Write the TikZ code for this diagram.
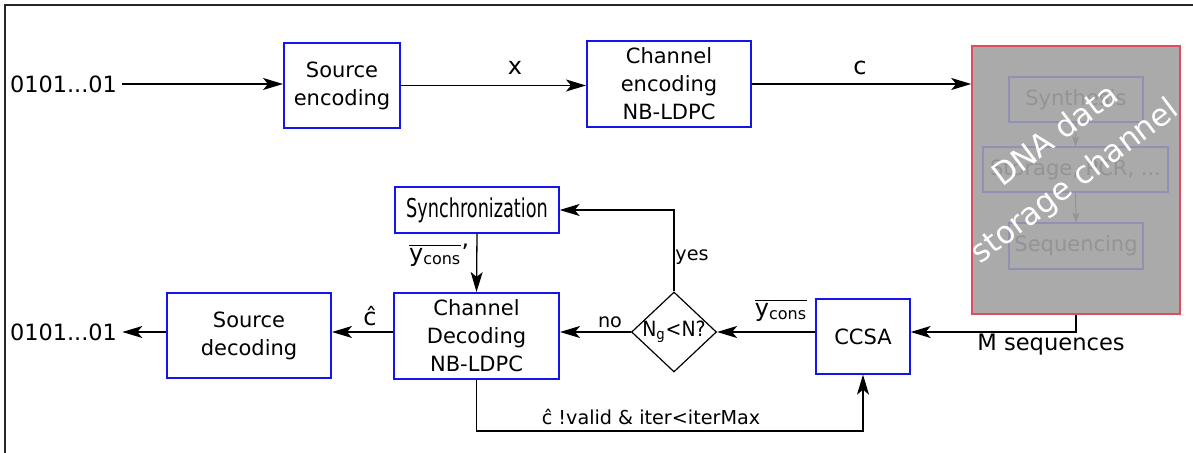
\documentclass[tikz,border=0pt]{standalone}
\usepackage{fontspec}
\setmainfont{DejaVu Sans}
\usetikzlibrary{arrows.meta,shapes.geometric}
\definecolor{bbl}{RGB}{20,20,235}
\definecolor{dnared}{RGB}{225,75,95}
\definecolor{dnagray}{RGB}{171,170,171}
\definecolor{innerb}{RGB}{145,145,180}
\definecolor{innert}{RGB}{148,148,148}
\newcommand\ycons{$\overline{\mbox{y\textsubscript{cons}}}$}
\begin{document}
\begin{tikzpicture}[x=0.5pt,y=-0.5pt,
  box/.style={draw=bbl, line width=1pt, align=center, inner sep=0pt,
    font=\fontsize{10.5}{14}\selectfont},
  tbox/.style={box, line width=0.65pt},
  inbox/.style={draw=innerb, line width=0.6pt, inner sep=0pt, text=innert,
    font=\fontsize{10.5}{12}\selectfont},
  inarr/.style={draw=innert, line width=0.5pt, -{Stealth[length=5pt,width=3.5pt,inset=1.5pt]}},
  arr/.style={draw=black, line width=0.65pt, -{Stealth[length=10pt,width=6pt,inset=2.5pt]}},
  lab/.style={inner sep=0pt, font=\fontsize{12}{14}\selectfont},
  slab/.style={inner sep=0pt, font=\fontsize{9.6}{12}\selectfont},
  io/.style={inner sep=2.5pt, font=\fontsize{11.2}{13}\selectfont}]
\useasboundingbox (0,0) rectangle (1193,453);
% frame
\draw[line width=1pt, black!85] (5,453) -- (5,5) -- (1193,5);
% top row
\node[io] (in) at (63.5,84) {0101...01};
\node[box, minimum width=58pt, minimum height=42.5pt] (srcenc) at (342,85.5) {Source\\encoding};
\node[box, minimum width=82pt, minimum height=43pt] (chenc) at (669,84) {Channel\\encoding\\NB-LDPC};
\node[draw=dnared, fill=dnagray, line width=0.8pt, minimum width=104pt, minimum height=134pt, inner sep=0pt] (dna) at (1076,180) {};
\node[inbox, minimum width=67pt, minimum height=22.5pt] (synth) at (1076,99.5) {Synthesis};
\node[inbox, minimum width=92.5pt, minimum height=22.5pt] (stor) at (1075.5,169.5) {Storage, PCR, ...};
\node[inbox, minimum width=67pt, minimum height=23pt] (seq) at (1076,246) {Sequencing};
\draw[inarr] (synth.south) -- (stor.north);
\draw[inarr] (stor.south) -- (seq.north);
\node[white, rotate=37, align=center, inner sep=0pt, font=\fontsize{15.5}{24}\selectfont] (dnatxt) at (1061,163) {\hspace*{12pt}DNA data\\storage channel};
\draw[arr] (in.east) -- (srcenc.west |- in.east);
\draw[arr] (srcenc.east) -- (chenc.west |- srcenc.east);
\node[lab] (xl) at (515,68) {x};
\draw[arr] (chenc.east) -- (dna.west |- chenc.east);
\node[lab] (cl) at (860,68) {c};
% bottom row
\node[io] (out) at (63.5,332) {0101...01};
\node[box, minimum width=82pt, minimum height=42.5pt] (srcdec) at (249,335.5) {Source\\decoding};
\node[box, minimum width=82.5pt, minimum height=43pt] (chdec) at (476.5,336) {Channel\\Decoding\\NB-LDPC};
\node[tbox, minimum width=82pt, minimum height=23pt, font=\fontsize{13}{14}\selectfont] (sync) at (477,210) {\scalebox{0.68}[1]{Synchronization}};
\node[diamond, draw, line width=0.6pt, minimum width=42.5pt, minimum height=40pt, inner sep=-1.5pt, font=\fontsize{10.5}{12}\selectfont] (dia) at (674,332) {\scalebox{0.9}[1]{N\textsubscript{g}<N?}};
\node[tbox, minimum width=47pt, minimum height=37.5pt, font=\fontsize{10.5}{12}\selectfont] (ccsa) at (863,336.5) {CCSA};
\draw[arr] (dna.south) |- (ccsa.east |- dia);
\node[inner sep=0pt, anchor=north, font=\fontsize{11.3}{13}\selectfont] (mseq) at (1051,334) {M sequences};
\draw[arr] (ccsa.west |- dia) -- (dia.east);
\node[lab] (yl) at (781,310) {\ycons};
\draw[arr] (dia.west) -- (chdec.east |- dia);
\node[slab] (nol) at (610,322) {no};
\draw[arr] (dia.north) |- (sync.east);
\node[slab] (yesl) at (692,257) {yes};
\draw[arr] (sync.south) -- (chdec.north);
\node[lab] (ypl) at (439,255) {\ycons'};
\draw[arr] (chdec.west |- dia) -- (srcdec.east |- dia);
\node[lab] (chl) at (370,316) {ĉ};
\draw[arr] (srcdec.west |- dia) -- (out.east |- dia);
\draw[arr] (chdec.south) -- ++(0,51) -| (ccsa.south);
\node[slab] (fbl) at (651,417) {ĉ !valid \& iter<iterMax};
\end{tikzpicture}
\end{document}
